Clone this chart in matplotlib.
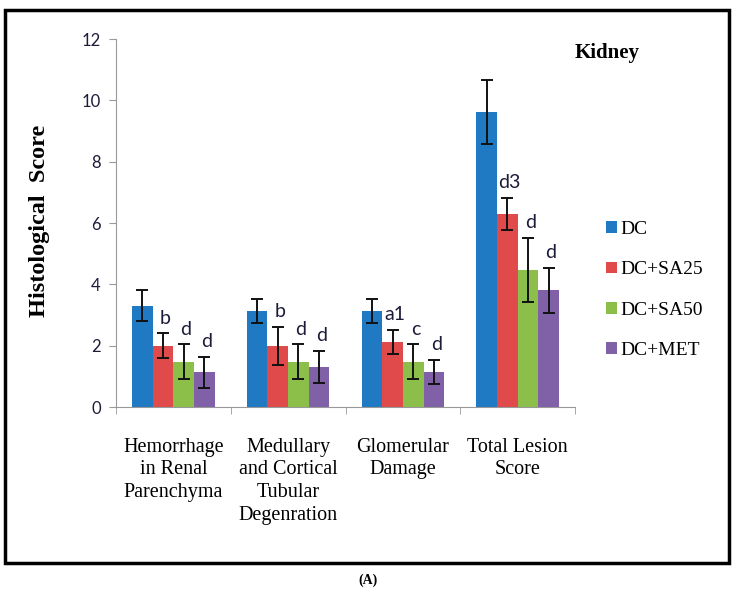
import numpy as np
import matplotlib.pyplot as plt
from matplotlib.patches import Rectangle

# --- data ---
categories = ["Hemorrhage\nin Renal\nParenchyma",
              "Medullary\nand Cortical\nTubular\nDegenration",
              "Glomerular\nDamage",
              "Total Lesion\nScore"]
groups = ["DC", "DC+SA25", "DC+SA50", "DC+MET"]
colors = ["#2079C3", "#E04A4A", "#8CBF4A", "#8061A8"]

dc_mean = [3.3, 3.13, 3.13, 9.63]
sa25_mean = [2.0, 2.0, 2.12, 6.29]
sa50_mean = [1.48, 1.48, 1.48, 4.47]
met_mean = [1.13, 1.31, 1.14, 3.8]

dc_err = [0.5, 0.38, 0.38, 1.04]
sa25_err = [0.4, 0.62, 0.4, 0.52]
sa50_err = [0.56, 0.56, 0.56, 1.03]
met_err = [0.5, 0.52, 0.4, 0.74]

sa25_lbl = ["b", "b", "a1", "d3"]
sa50_lbl = ["d", "d", "c", "d"]
met_lbl = ["d", "d", "d", "d"]

means = [dc_mean, sa25_mean, sa50_mean, met_mean]
errs = [dc_err, sa25_err, sa50_err, met_err]
letters = [None, sa25_lbl, sa50_lbl, met_lbl]

# --- figure ---
fig = plt.figure(figsize=(7.36, 5.93), dpi=100)
ax = fig.add_axes([116 / 736, 1 - 407 / 593, (575 - 116) / 736, (407 - 39) / 593])

x = np.arange(len(categories))
w = 0.18
for i, (m, e, c, g) in enumerate(zip(means, errs, colors, groups)):
    pos = x + (i - 1.5) * w
    ax.bar(pos, m, width=w, color=c, label=g, zorder=2)
    ax.errorbar(pos, m, yerr=e, fmt="none", ecolor="#111111", elinewidth=1.4,
                capsize=4, capthick=1.4, zorder=3)
    if letters[i] is not None:
        for p, mm, ee, t in zip(pos, m, e, letters[i]):
            ax.text(p + 0.02, mm + ee + 0.5, t, ha="center", va="center",
                    fontsize=14, family="Lato", color="#1c1c3a")

ax.set_xlim(-0.5, len(categories) - 0.5)
ax.set_ylim(0, 12)
ax.set_yticks(range(0, 13, 2))
ax.tick_params(axis="y", labelsize=12, length=5, color="#999999", pad=6,
               labelcolor="#1c1c3a")
for lab in ax.get_yticklabels():
    lab.set_family("Lato")

ax.set_xticks(x)
ax.set_xticklabels(categories, family="Liberation Serif", fontsize=14.5,
                   linespacing=1.27, va="top")
ax.set_xticks(np.arange(-0.5, len(categories)), minor=True)
ax.tick_params(axis="x", which="major", length=0, pad=22)
ax.tick_params(axis="x", which="minor", length=5, color="#999999")

for s in ["top", "right"]:
    ax.spines[s].set_visible(False)
for s in ["left", "bottom"]:
    ax.spines[s].set_color("#999999")

ax.set_ylabel("Histological  Score", family="Liberation Serif", fontsize=17.5,
              fontweight="bold")
ax.yaxis.set_label_coords((50 - 116) / 459, (407 - 221) / 368)

ax.legend(loc="center left", bbox_to_anchor=(1.03, 0.318), frameon=False,
          prop={"family": "Liberation Serif", "size": 14},
          handlelength=0.55, handleheight=0.55, handletextpad=0.2,
          labelspacing=1.2)

fig.text(607 / 736, 1 - 53 / 593, "Kidney", ha="center", va="center",
         family="Liberation Serif", fontsize=15, fontweight="bold")
fig.text(368 / 736, 1 - 580 / 593, "(A)", ha="center", va="center",
         family="Liberation Serif", fontsize=10, fontweight="bold")

fig.patches.append(Rectangle((5 / 736, 1 - 563 / 593), 724 / 736, 553 / 593,
                             transform=fig.transFigure, fill=False,
                             edgecolor="black", linewidth=2.5))

fig.savefig("out.png", dpi=100)
